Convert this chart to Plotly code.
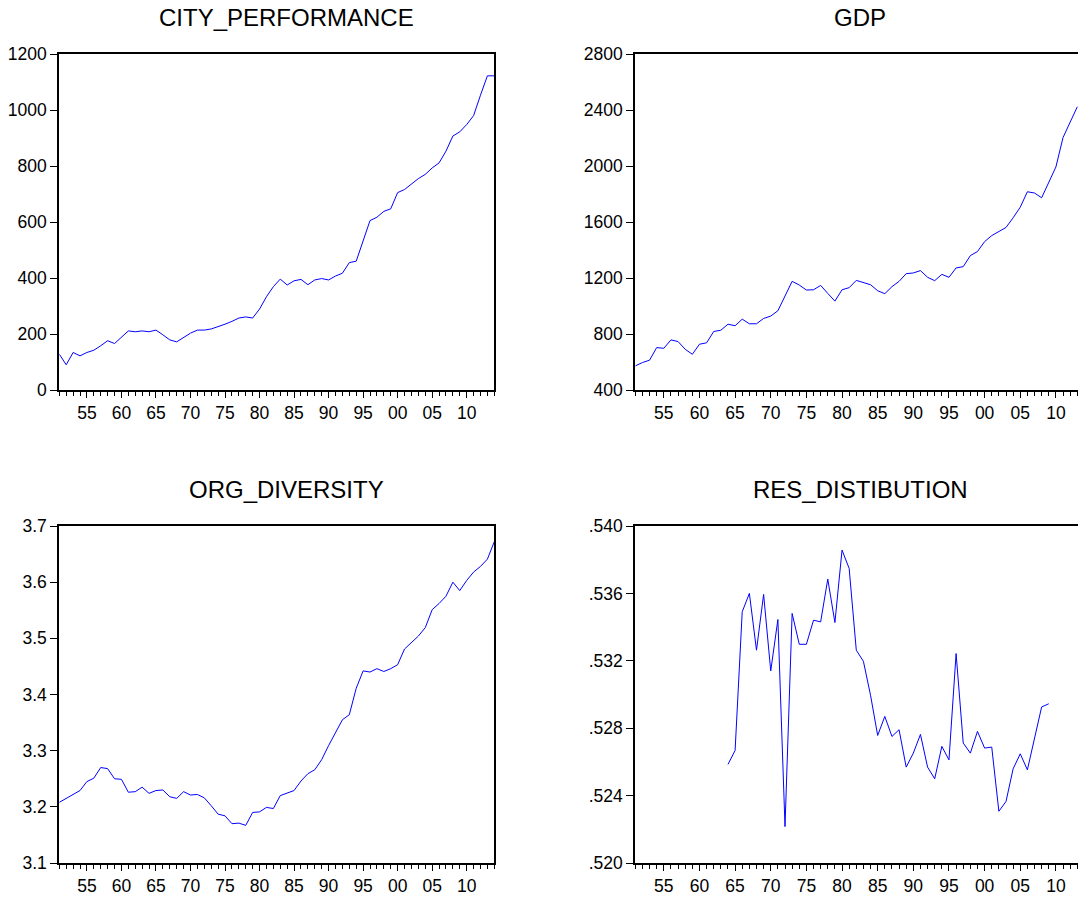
import plotly.graph_objects as go

W, H = 1078, 897

years = list(range(1951, 2015))

city_performance = [128, 90, 134, 122, 134, 142, 158, 176, 166, 190,
                    211, 208, 211, 208, 214, 197, 179, 172, 187, 203,
                    214, 214, 218, 226, 235, 245, 257, 261, 257, 289,
                    333, 369, 396, 375, 390, 395, 376, 393, 398, 393,
                    407, 417, 455, 460, 534, 605, 617, 638, 647, 705,
                    716, 737, 755, 770, 793, 811, 853, 907, 922, 948,
                    980, 1053, 1122, 1122]

gdp_years = list(range(1951, 2014))
gdp = [572, 596, 613, 703, 698, 758, 746, 691, 655, 727,
       737, 818, 827, 870, 859, 906, 873, 873, 911, 928,
       966, 1073, 1176, 1150, 1114, 1116, 1147, 1090, 1035, 1116,
       1131, 1183, 1167, 1152, 1109, 1088, 1138, 1176, 1231, 1236,
       1253, 1205, 1181, 1226, 1205, 1272, 1281, 1360, 1389, 1460,
       1503, 1532, 1561, 1630, 1706, 1816, 1807, 1773, 1885, 1993,
       2203, 2315, 2423]

org_diversity = [3.208, 3.215, 3.222, 3.229, 3.245, 3.251, 3.270, 3.268, 3.250, 3.249,
                 3.226, 3.227, 3.235, 3.224, 3.229, 3.230, 3.218, 3.215, 3.227, 3.221,
                 3.222, 3.216, 3.202, 3.187, 3.184, 3.170, 3.171, 3.167, 3.190, 3.191,
                 3.199, 3.197, 3.220, 3.225, 3.229, 3.246, 3.259, 3.266, 3.284, 3.309,
                 3.331, 3.355, 3.364, 3.411, 3.442, 3.440, 3.446, 3.441, 3.446, 3.453,
                 3.481, 3.493, 3.504, 3.519, 3.551, 3.562, 3.575, 3.600, 3.585, 3.603,
                 3.618, 3.628, 3.641, 3.672]

res_years = list(range(1964, 2010))
res_distibution = [0.52585, 0.52668, 0.53491, 0.53600, 0.53263, 0.53594, 0.53140, 0.53445,
                   0.52216, 0.53481, 0.53298, 0.53298, 0.53441, 0.53431, 0.53685, 0.53427,
                   0.53857, 0.53748, 0.53263, 0.53197, 0.52995, 0.52757, 0.52870, 0.52751,
                   0.52791, 0.52569, 0.52652, 0.52763, 0.52569, 0.52500, 0.52692, 0.52612,
                   0.53243, 0.52712, 0.52652, 0.52781, 0.52682, 0.52688, 0.52307, 0.52365,
                   0.52559, 0.52648, 0.52553, 0.52741, 0.52926, 0.52945]

x_tickvals = [1955, 1960, 1965, 1970, 1975, 1980, 1985, 1990, 1995, 2000, 2005, 2010]
x_ticktext = ["55", "60", "65", "70", "75", "80", "85", "90", "95", "00", "05", "10"]

titles = ["CITY_PERFORMANCE", "GDP", "ORG_DIVERSITY", "RES_DISTIBUTION"]

y1_vals = [0, 200, 400, 600, 800, 1000, 1200]
y2_vals = [400, 800, 1200, 1600, 2000, 2400, 2800]
y3_vals = [3.1, 3.2, 3.3, 3.4, 3.5, 3.6, 3.7]
y3_text = ["3.1", "3.2", "3.3", "3.4", "3.5", "3.6", "3.7"]
y4_vals = [0.520, 0.524, 0.528, 0.532, 0.536, 0.540]
y4_text = [".520", ".524", ".528", ".532", ".536", ".540"]

FONT = "Arial, Liberation Sans, sans-serif"
LINE = "#0000FF"

fig = go.Figure()
fig.add_trace(go.Scatter(x=years, y=city_performance, mode="lines",
                         line=dict(color=LINE, width=1), xaxis="x", yaxis="y"))
fig.add_trace(go.Scatter(x=gdp_years, y=gdp, mode="lines",
                         line=dict(color=LINE, width=1), xaxis="x2", yaxis="y2"))
fig.add_trace(go.Scatter(x=years, y=org_diversity, mode="lines",
                         line=dict(color=LINE, width=1), xaxis="x3", yaxis="y3"))
fig.add_trace(go.Scatter(x=res_years, y=res_distibution, mode="lines",
                         line=dict(color=LINE, width=1), xaxis="x4", yaxis="y4"))

def px_x(p):
    return p / W

def px_y(p):
    return 1 - p / H

left_dom = [px_x(59.3), px_x(494.3)]
right_dom = [px_x(635.3), 1.0]
top_dom = [px_y(390), px_y(54)]
bot_dom = [px_y(863), px_y(526)]

tickfont = dict(family=FONT, size=17.5, color="black")

def xaxis(domain, anchor, rng):
    return dict(domain=domain, anchor=anchor, range=rng, automargin=False,
                showline=True, linecolor="black", linewidth=2, mirror=True,
                showgrid=False, zeroline=False,
                tickmode="array", tickvals=x_tickvals, ticktext=x_ticktext,
                ticks="outside", ticklen=6, tickwidth=1, tickcolor="black",
                minor=dict(tickmode="array", tickvals=years, ticks="outside",
                           ticklen=4, tickwidth=1, tickcolor="black", showgrid=False),
                tickfont=tickfont)

def yaxis(domain, anchor, rng, vals, text=None, mirror=True):
    d = dict(domain=domain, anchor=anchor, range=rng, automargin=False,
             showline=True, linecolor="black", linewidth=2, mirror=mirror,
             showgrid=False, zeroline=False,
             tickmode="array", tickvals=vals,
             ticks="outside", ticklen=7, tickwidth=1, tickcolor="black",
             tickfont=tickfont)
    if text is not None:
        d["ticktext"] = text
    return d

fig.update_layout(
    template="none",
    width=W, height=H,
    margin=dict(l=0, r=0, t=0, b=0, pad=0),
    paper_bgcolor="white", plot_bgcolor="white",
    showlegend=False,
    xaxis=xaxis(left_dom, "y", [1951, 2014]),
    yaxis=yaxis(top_dom, "x", [0, 1200], y1_vals),
    xaxis2=xaxis(right_dom, "y2", [1951, 2013.1]),
    yaxis2=yaxis(top_dom, "x2", [400, 2800], y2_vals, mirror=False),
    xaxis3=xaxis(left_dom, "y3", [1951, 2014]),
    yaxis3=yaxis(bot_dom, "x3", [3.1, 3.7], y3_vals, y3_text),
    xaxis4=xaxis(right_dom, "y4", [1951, 2013.1]),
    yaxis4=yaxis(bot_dom, "x4", [0.520, 0.540], y4_vals, y4_text, mirror=False),
)

title_pos = [(286, 18), (860, 18), (286, 489), (860.5, 489)]
for t, (tx, ty) in zip(titles, title_pos):
    fig.add_annotation(text=t, x=px_x(tx), y=px_y(ty), xref="paper", yref="paper",
                       xanchor="center", yanchor="middle", showarrow=False,
                       font=dict(family=FONT, size=24, color="black"))

fig.write_html(
    "out.html",
    config={"displayModeBar": False},
    post_script="document.body.style.margin='0';document.body.style.overflow='hidden';",
)
